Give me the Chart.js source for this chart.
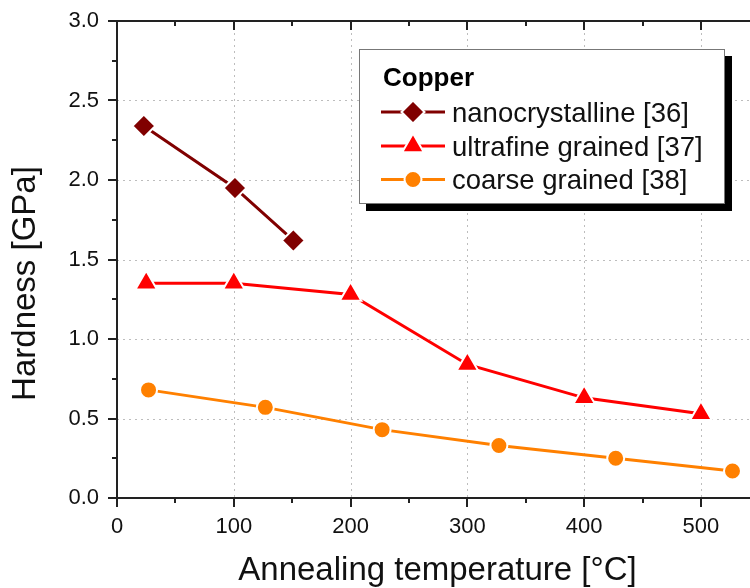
<!DOCTYPE html>
<html>
<head>
<meta charset="utf-8">
<script src="https://cdn.jsdelivr.net/npm/chart.js@4/dist/chart.umd.min.js"></script>
<style>
  html, body { margin: 0; padding: 0; background: #fff; overflow: hidden; }
  canvas { display: block; }
</style>
</head>
<body>
<canvas id="c" width="750" height="588" style="width:750px;height:588px"></canvas>
<script>
// Hardness of copper after annealing
const legendTitle = 'Copper';
const seriesNames = ['nanocrystalline [36]', 'ultrafine grained [37]', 'coarse grained [38]'];

const nanoTemp = [23, 101, 151];
const nanoHardness = [2.34, 1.95, 1.62];

const ufgTemp = [25, 100, 200, 300, 400, 500];
const ufgHardness = [1.35, 1.35, 1.28, 0.84, 0.63, 0.53];

const coarseTemp = [27, 127, 227, 327, 427, 527];
const coarseHardness = [0.68, 0.57, 0.43, 0.33, 0.25, 0.17];

const xTickValues = [0, 100, 200, 300, 400, 500];
const yTickValues = [0, 0.5, 1.0, 1.5, 2.0, 2.5, 3.0];

const xTitle = 'Annealing temperature [°C]';
const yTitle = 'Hardness [GPa]';

const FONT = "'Liberation Sans', Arial, Helvetica, sans-serif";
const seriesColors = ['#800000', '#ff0000', '#ff8000'];
const seriesStyles = ['rectRot', 'triangle', 'circle'];
const seriesRadii = [11.5, 12.5, 8.5];

function toPoints(xs, ys) { return xs.map((x, i) => ({ x: x, y: ys[i] })); }

function makeSet(idx, data) {
  return {
    label: seriesNames[idx],
    data: data,
    borderColor: seriesColors[idx],
    backgroundColor: seriesColors[idx],
    borderWidth: 3,
    tension: 0,
    pointStyle: seriesStyles[idx],
    pointRadius: seriesRadii[idx],
    pointHoverRadius: seriesRadii[idx],
    pointBackgroundColor: seriesColors[idx],
    pointBorderColor: '#ffffff',
    pointBorderWidth: 2,
    clip: false
  };
}

// grid, axis frame, tick marks (major + minor), titles and the boxed legend
const framePlugin = {
  id: 'frame',
  beforeDatasetsDraw(chart) {
    const ctx = chart.ctx;
    const xs = chart.scales.x, ys = chart.scales.y;
    const a = chart.chartArea;
    ctx.save();
    // dotted grid
    ctx.strokeStyle = '#bdbdbd';
    ctx.lineWidth = 1;
    ctx.setLineDash([2, 4]);
    xTickValues.forEach(v => {
      if (v === 0) return;
      const px = Math.round(xs.getPixelForValue(v)) + 0.5;
      ctx.beginPath(); ctx.moveTo(px, a.top); ctx.lineTo(px, a.bottom); ctx.stroke();
    });
    yTickValues.forEach(v => {
      if (v === 0 || v === 3) return;
      const py = Math.round(ys.getPixelForValue(v)) + 0.5;
      ctx.beginPath(); ctx.moveTo(a.left, py); ctx.lineTo(a.right, py); ctx.stroke();
    });
    ctx.setLineDash([]);

    // axis frame (the right side runs past the canvas edge)
    ctx.strokeStyle = '#222';
    ctx.lineWidth = 2;
    ctx.beginPath();
    ctx.moveTo(a.right + 2, a.top); ctx.lineTo(a.left, a.top);
    ctx.lineTo(a.left, a.bottom); ctx.lineTo(a.right + 2, a.bottom);
    ctx.stroke();

    // tick marks: outward on bottom/left, inward on top
    const major = 9, minor = 5;
    ctx.lineWidth = 2;
    for (let v = 0; v <= xs.max + 1e-9; v += 50) {
      const len = (v % 100 === 0) ? major : minor;
      const px = Math.round(xs.getPixelForValue(v));
      ctx.beginPath(); ctx.moveTo(px, a.bottom); ctx.lineTo(px, a.bottom + len); ctx.stroke();
      ctx.beginPath(); ctx.moveTo(px, a.top); ctx.lineTo(px, a.top + len); ctx.stroke();
    }
    for (let k = 0; k <= 12; k++) {
      const v = k * 0.25;
      const len = (k % 2 === 0) ? major : minor;
      const py = Math.round(ys.getPixelForValue(v));
      ctx.beginPath(); ctx.moveTo(a.left, py); ctx.lineTo(a.left - len, py); ctx.stroke();
    }
    ctx.restore();
  },
  afterDraw(chart) {
    const ctx = chart.ctx;
    ctx.save();
    ctx.fillStyle = '#111';
    // axis titles
    ctx.font = '33px ' + FONT;
    ctx.textAlign = 'center';
    ctx.textBaseline = 'alphabetic';
    ctx.fillText(xTitle, 437.5, 580);
    ctx.save();
    ctx.translate(35, 283.5);
    ctx.rotate(-Math.PI / 2);
    ctx.fillText(yTitle, 0, 0);
    ctx.restore();

    // legend box with drop shadow
    const bx = 359, by = 49, bw = 366, bh = 155, sh = 7;
    ctx.fillStyle = '#000';
    ctx.fillRect(bx + sh, by + sh, bw, bh);
    ctx.fillStyle = '#fff';
    ctx.fillRect(bx, by, bw, bh);
    ctx.strokeStyle = '#777';
    ctx.lineWidth = 1;
    ctx.strokeRect(bx + 0.5, by + 0.5, bw - 1, bh - 1);

    ctx.fillStyle = '#000';
    ctx.textAlign = 'left';
    ctx.font = 'bold 26px ' + FONT;
    ctx.fillText(legendTitle, 383, 86);

    const rowY = [112, 146, 179.5];
    chart.data.datasets.forEach((ds, i) => {
      const y = rowY[i];
      ctx.strokeStyle = ds.borderColor;
      ctx.lineWidth = 3;
      ctx.beginPath(); ctx.moveTo(381, y); ctx.lineTo(445, y); ctx.stroke();
      ctx.fillStyle = ds.pointBackgroundColor;
      ctx.strokeStyle = ds.pointBorderColor;
      ctx.lineWidth = ds.pointBorderWidth;
      Chart.helpers.drawPoint(ctx, {
        pointStyle: ds.pointStyle,
        radius: ds.pointRadius,
        borderWidth: ds.pointBorderWidth,
        rotation: 0
      }, 413, y);
      ctx.fillStyle = '#111';
      ctx.font = '27.5px ' + FONT;
      ctx.fillText(ds.label, 452, y + 9.5);
    });
    ctx.restore();
  }
};

const chart = new Chart(document.getElementById('c'), {
  type: 'line',
  data: {
    datasets: [
      makeSet(0, toPoints(nanoTemp, nanoHardness)),
      makeSet(1, toPoints(ufgTemp, ufgHardness)),
      makeSet(2, toPoints(coarseTemp, coarseHardness))
    ]
  },
  options: {
    responsive: false,
    maintainAspectRatio: false,
    devicePixelRatio: 1,
    animation: false,
    layout: { autoPadding: false, padding: { top: 21, left: 0, right: 0, bottom: 0 } },
    plugins: { legend: { display: false }, tooltip: { enabled: false } },
    scales: {
      x: {
        type: 'linear',
        min: 0,
        max: 542,
        grid: { display: false, drawTicks: false },
        border: { display: false },
        afterBuildTicks: s => { s.ticks = xTickValues.map(v => ({ value: v })); },
        afterFit: s => { s.height = 90; },
        ticks: {
          autoSkip: false,
          maxRotation: 0,
          padding: 16,
          color: '#111',
          font: { family: FONT, size: 22 },
          callback: v => String(v)
        }
      },
      y: {
        type: 'linear',
        min: 0,
        max: 3,
        grid: { display: false, drawTicks: false },
        border: { display: false },
        afterBuildTicks: s => { s.ticks = yTickValues.map(v => ({ value: v })); },
        afterFit: s => { s.width = 117; },
        ticks: {
          autoSkip: false,
          padding: 18,
          color: '#111',
          font: { family: FONT, size: 22, lineHeight: 0.2 },
          callback: v => Number(v).toFixed(1)
        }
      }
    }
  },
  plugins: [framePlugin]
});
</script>
</body>
</html>
